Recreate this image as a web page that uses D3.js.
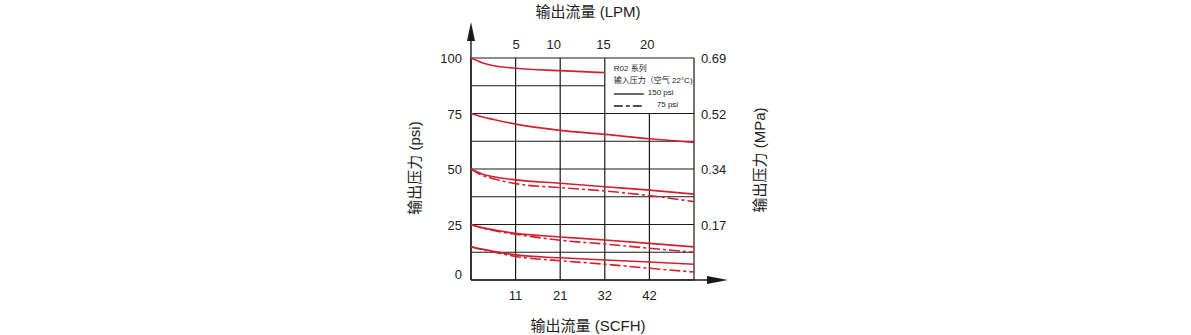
<!DOCTYPE html>
<html>
<head>
<meta charset="utf-8">
<script src="https://cdn.jsdelivr.net/npm/d3@7"></script>
<style>
  body { margin: 0; background: #fff; }
  text { font-family: "Liberation Sans", Arial, "Noto Sans CJK SC", sans-serif; fill: #222; }
</style>
</head>
<body>
<svg></svg>
<script>
// Data (flow in SCFH, pressure in psi)
const flow = [0, 2.6, 5.3, 10.5, 21, 31.5, 42, 52.5]
const psi_ticks = [0, 25, 50, 75, 100]
const mpa_labels = ["0.17", "0.34", "0.52", "0.69"]
const scfh_ticks = [10.5, 21, 31.5, 42]
const scfh_labels = ["11", "21", "32", "42"]
const lpm_ticks = [10.6, 19.5, 31.2, 41.5]
const lpm_labels = ["5", "10", "15", "20"]

// 150 psi inlet (solid)
const solid_100 = [100, 97.9, 96.5, 95.4, 94.3, 93.4, null, null]
const solid_75 = [75, 73.5, 72.3, 70.2, 67.4, 65.6, 63.6, 62.0]
const solid_50 = [50, 47.8, 46.5, 45.1, 43.6, 42.0, 40.5, 38.7]
const solid_25 = [25, 23.6, 22.6, 21.0, 19.4, 18.0, 16.5, 14.9]
const solid_15 = [15, 13.9, 12.9, 11.3, 10.0, 9.0, 8.1, 7.1]
// 75 psi inlet (dash-dot)
const dash_50 = [50, 47.2, 45.6, 43.4, 41.6, 40.1, 38.0, 35.3]
const dash_25 = [25, 23.4, 22.3, 20.6, 17.9, 16.2, 14.3, 12.5]
const dash_15 = [15, 13.7, 12.6, 10.6, 8.7, 7.1, 5.3, 3.6]

const width = 1191
const height = 335
const plot_left = 471, plot_right = 694, plot_top = 58, plot_bottom = 280

const svg = d3.select("svg")
    .attr("width", width)
    .attr("height", height)

const x = d3.scaleLinear().domain([0, 52.5]).range([plot_left, plot_right])
const y = d3.scaleLinear().domain([0, 100]).range([plot_bottom, plot_top])

const red = "#d3202f"
const ink = "#1a1a1a"

// grid
const grid = svg.append("g").attr("stroke", ink).attr("stroke-width", 1.2)
d3.range(0, 101, 12.5).forEach(function(p) {
    // legend box hides the grid in the upper right corner
    const x_end = (p > 75 && p < 100) ? x(31.5) : plot_right
    grid.append("line")
        .attr("x1", plot_left).attr("x2", x_end)
        .attr("y1", y(p)).attr("y2", y(p))
})
d3.range(0, 52.6, 10.5).forEach(function(f) {
    const y_start = (f > 31.5 && f < 52.5) ? y(75) : plot_top
    grid.append("line")
        .attr("x1", x(f)).attr("x2", x(f))
        .attr("y1", y_start).attr("y2", plot_bottom)
})

// axis arrows
svg.append("line")
    .attr("x1", plot_left).attr("x2", plot_left)
    .attr("y1", plot_bottom).attr("y2", 36)
    .attr("stroke", ink).attr("stroke-width", 1.4)
svg.append("path")
    .attr("d", `M${plot_left},22 L${plot_left - 4},41 L${plot_left + 4},41 Z`)
    .attr("fill", ink)
svg.append("line")
    .attr("x1", plot_left).attr("x2", 712)
    .attr("y1", plot_bottom).attr("y2", plot_bottom)
    .attr("stroke", ink).attr("stroke-width", 1.4)
svg.append("path")
    .attr("d", `M728,${plot_bottom} L707,${plot_bottom - 4} L707,${plot_bottom + 4} Z`)
    .attr("fill", ink)

// tick labels
psi_ticks.forEach(function(p) {
    svg.append("text")
        .attr("x", plot_left - 9).attr("y", y(p) + (p === 0 ? -1 : 5))
        .attr("text-anchor", "end")
        .attr("font-size", 13)
        .text(p)
})
mpa_labels.forEach(function(label, i) {
    svg.append("text")
        .attr("x", plot_right + 7).attr("y", y(psi_ticks[i + 1]) + 5)
        .attr("font-size", 13)
        .text(label)
})
scfh_ticks.forEach(function(f, i) {
    svg.append("text")
        .attr("x", x(f)).attr("y", 300)
        .attr("text-anchor", "middle")
        .attr("font-size", 13)
        .text(scfh_labels[i])
})
lpm_ticks.forEach(function(f, i) {
    svg.append("text")
        .attr("x", x(f)).attr("y", 49)
        .attr("text-anchor", "middle")
        .attr("font-size", 13)
        .text(lpm_labels[i])
})

// axis titles
svg.append("text")
    .attr("x", 588).attr("y", 17)
    .attr("text-anchor", "middle").attr("font-size", 15)
    .text("输出流量 (LPM)")
svg.append("text")
    .attr("x", 588).attr("y", 331)
    .attr("text-anchor", "middle").attr("font-size", 15)
    .text("输出流量 (SCFH)")
svg.append("text")
    .attr("transform", "translate(420,168) rotate(-90)")
    .attr("text-anchor", "middle").attr("font-size", 15)
    .text("输出压力 (psi)")
svg.append("text")
    .attr("transform", "translate(765,160) rotate(-90)")
    .attr("text-anchor", "middle").attr("font-size", 15)
    .text("输出压力 (MPa)")

// curves
const line = d3.line()
    .defined(d => d[1] !== null)
    .x(d => x(d[0]))
    .y(d => y(d[1]))
    .curve(d3.curveMonotoneX)

const series = [
    { values: solid_100, dash: null },
    { values: solid_75, dash: null },
    { values: solid_50, dash: null },
    { values: solid_25, dash: null },
    { values: solid_15, dash: null },
    { values: dash_50, dash: "11,3,3,3" },
    { values: dash_25, dash: "11,3,3,3" },
    { values: dash_15, dash: "11,3,3,3" },
]

svg.append("g").selectAll("path")
    .data(series)
    .enter()
    .append("path")
    .attr("d", s => line(flow.map((f, i) => [f, s.values[i]])))
    .attr("fill", "none")
    .attr("stroke", red)
    .attr("stroke-width", 1.6)
    .attr("stroke-dasharray", s => s.dash)

// legend
const legend = svg.append("g").attr("transform", `translate(${x(31.5) + 9},0)`)
legend.append("text").attr("x", 0).attr("y", 71).attr("font-size", 8).text("R02 系列")
legend.append("text").attr("x", 0).attr("y", 83).attr("font-size", 8).text("输入压力（空气 22°C)")
legend.append("line")
    .attr("x1", 0).attr("x2", 30).attr("y1", 94).attr("y2", 94)
    .attr("stroke", ink).attr("stroke-width", 1.3)
legend.append("text").attr("x", 34).attr("y", 95).attr("font-size", 8).text("150 psi")
legend.append("line")
    .attr("x1", 0).attr("x2", 30).attr("y1", 106).attr("y2", 106)
    .attr("stroke", ink).attr("stroke-width", 1.3)
    .attr("stroke-dasharray", "9,3,4,3")
legend.append("text").attr("x", 43).attr("y", 107).attr("font-size", 8).text("75 psi")
</script>
</body>
</html>
